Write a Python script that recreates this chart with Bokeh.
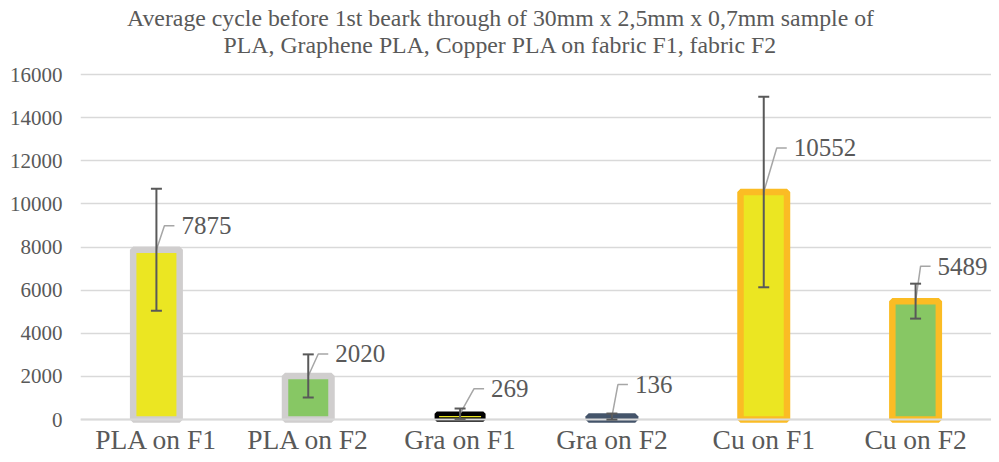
from bokeh.plotting import figure
from bokeh.models import ColumnDataSource, Whisker, TeeHead, FixedTicker, Range1d, LabelSet, Label, Span
from bokeh.embed import file_html
from bokeh.resources import INLINE

# ---- data ----
categories = ["PLA on F1", "PLA on F2", "Gra on F1", "Gra on F2", "Cu on F1", "Cu on F2"]
values = [7875, 2020, 269, 136, 10552, 5489]
errors = [2830, 1000, 240, 140, 4420, 810]
title_lines = ["Average cycle before 1st beark through of 30mm x 2,5mm x 0,7mm sample of",
               "PLA, Graphene PLA, Copper PLA on fabric F1, fabric F2"]
y_ticks = [0, 2000, 4000, 6000, 8000, 10000, 12000, 14000, 16000]

# ---- styles / layout ----
fill_colors = ["#EBE622", "#87C764", "#EBE622", "#44546A", "#EBE622", "#87C764"]
line_colors = ["#D0CECE", "#D0CECE", "#000000", "#44546A", "#FBBC24", "#FBBC24"]
line_widths = [6.5, 6.5, 4.5, 6.5, 6.5, 6.5]
label_dx = [8, 10, 14, 6, 13, 5]      # leader elbow offsets, px
label_dy = [24, 22, 25, 32, 44, 35]
PLOT_W, PLOT_H = 911, 345            # data area in px
TITLE_H = 74                         # px reserved above the data area for the title
BOTTOM_H = 35                        # px reserved below the zero line for category labels
TITLE_LINE_Y = [17, 44]              # px below the top for the title line centres
CAT_LABEL_Y = 20                     # px below the zero line for category label centres
TITLE_CX = 420                       # px from the data-area left to the title centre
B_LEFT = 80
Y_MAX = 16000
FONT = "Liberation Serif"
GRAY = "#595959"

n = len(categories)
px_x = PLOT_W / n
px_y = PLOT_H / Y_MAX
y_top = Y_MAX + TITLE_H / px_y
y_bottom = -BOTTOM_H / px_y
xs = [i + 0.5 for i in range(n)]

p = figure(frame_width=PLOT_W, frame_height=PLOT_H + TITLE_H + BOTTOM_H,
           x_range=Range1d(0, n), y_range=Range1d(y_bottom, y_top),
           output_backend="svg", toolbar_location=None,
           min_border_left=B_LEFT, min_border_right=0,
           min_border_top=0, min_border_bottom=0)
try:
    p.title = None
except Exception:
    p.title.visible = False
p.outline_line_color = None
p.background_fill_color = "white"
p.border_fill_color = "white"

# title lines, centred
for line, dy in zip(title_lines, TITLE_LINE_Y):
    p.add_layout(Label(x=TITLE_CX / px_x, y=y_top - dy / px_y, text=line,
                       text_font=FONT, text_font_size="23.8px", text_color=GRAY,
                       text_align="center", text_baseline="middle"))

# category axis line at zero
p.add_layout(Span(location=0, dimension="width", line_color="#D9D9D9", line_width=2))

src = ColumnDataSource(dict(x=xs, top=values, fill=fill_colors, line=line_colors, lw=line_widths,
                            upper=[v + e for v, e in zip(values, errors)],
                            lower=[v - e for v, e in zip(values, errors)]))
p.vbar(x="x", top="top", bottom=0, width=46.5 / px_x, source=src,
       fill_color="fill", line_color="line", line_width="lw")

wh = Whisker(base="x", upper="upper", lower="lower", source=src, level="overlay",
             line_color=GRAY, line_width=2,
             upper_head=TeeHead(size=11, line_color=GRAY, line_width=2),
             lower_head=TeeHead(size=11, line_color=GRAY, line_width=2))
p.add_layout(wh)

# category labels under the zero line
csrc = ColumnDataSource(dict(x=xs, y=[-CAT_LABEL_Y / px_y] * n, t=categories))
p.add_layout(LabelSet(x="x", y="y", text="t", source=csrc, text_font=FONT,
                      text_font_size="27.5px", text_color=GRAY, text_baseline="middle",
                      text_align="center"))

# leader lines and data labels
lx, ly, tx, ty, tt = [], [], [], [], []
for x, v, dx, dy in zip(xs, values, label_dx, label_dy):
    ex = x + dx / px_x
    ey = v + dy / px_y
    hx = ex + 10 / px_x
    lx.append([x, ex, hx])
    ly.append([v, ey, ey])
    tx.append(hx + 7 / px_x)
    ty.append(ey)
    tt.append(str(v))
p.multi_line(xs=lx, ys=ly, line_color="#A6A6A6", line_width=1.5, level="overlay")
lsrc = ColumnDataSource(dict(x=tx, y=ty, t=tt))
p.add_layout(LabelSet(x="x", y="y", text="t", source=lsrc, text_font=FONT,
                      text_font_size="25px", text_color=GRAY, text_baseline="middle",
                      text_align="left", level="overlay"))

# axes
p.xaxis.visible = False

p.yaxis.ticker = FixedTicker(ticks=y_ticks)
p.yaxis.major_label_text_font = FONT
p.yaxis.major_label_text_font_size = "21px"
p.yaxis.major_label_text_color = GRAY
p.yaxis.axis_line_color = None
p.yaxis.major_tick_line_color = None
p.yaxis.minor_tick_line_color = None
p.yaxis.major_tick_out = 0
p.yaxis.major_label_standoff = 18

p.xgrid.grid_line_color = None
p.ygrid.grid_line_color = "#D9D9D9"
p.ygrid.grid_line_width = 1.5

open("out.html", "w").write(file_html(p, INLINE))
